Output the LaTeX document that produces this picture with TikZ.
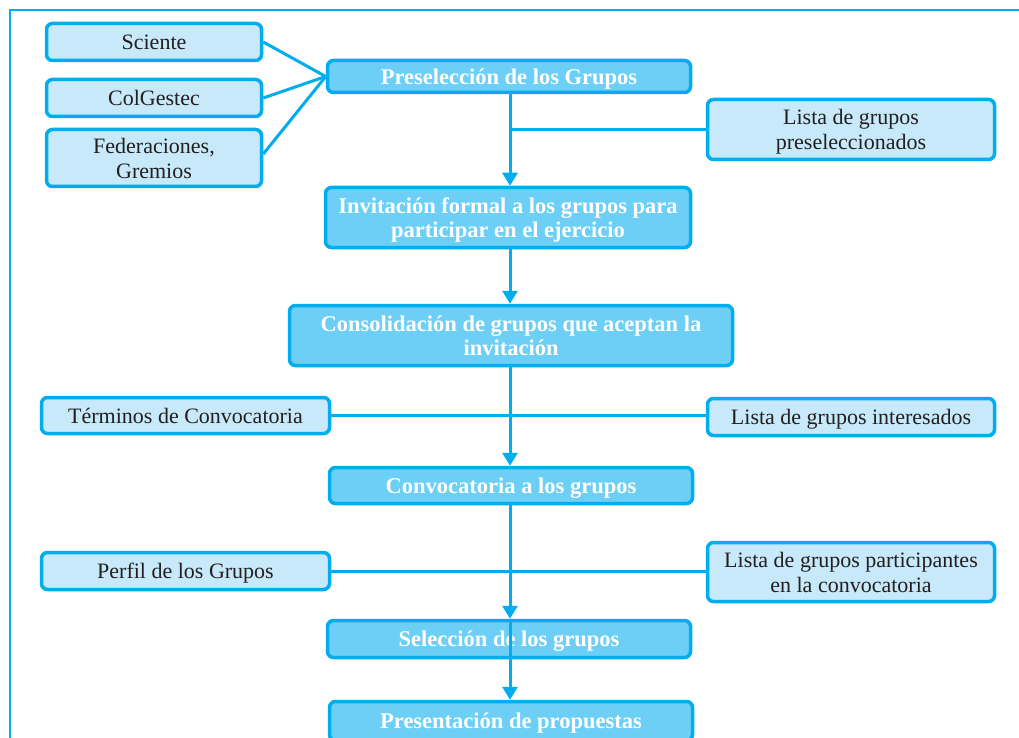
\documentclass[tikz,border=0pt]{standalone}
\usepackage{fontspec}
\setmainfont{Liberation Serif}
\usetikzlibrary{arrows.meta}
\definecolor{edge}{RGB}{0,174,239}
\definecolor{lightfill}{RGB}{199,233,249}
\definecolor{mainfill}{RGB}{109,207,246}
\definecolor{ink}{RGB}{35,31,32}
\begin{document}
\begin{tikzpicture}[x=1pt,y=-1pt,
  box/.style={draw=edge, line width=3.5pt, rounded corners=6pt, inner sep=0pt, align=center, text depth=0pt},
  side/.style={box, fill=lightfill, text=ink, font=\fontsize{22}{25}\selectfont},
  main/.style={box, fill=mainfill, text=white, font=\fontsize{22.5}{24}\selectfont\bfseries},
  link/.style={draw=edge, line width=3pt},
  arr/.style={link, -{Triangle[width=15pt,length=13pt]}},
  frame/.style={draw=edge, line width=2.5pt}]
\useasboundingbox (0,0) rectangle (1019,738);

% outer frame
\draw[frame] (10,738) -- (10,10) -- (1020,10);

% spine of the flow
\coordinate (spine) at (510,0);

% left-hand sources
\node[side, minimum width=215pt, minimum height=37pt] (sci) at (154,42) {Sciente};
\node[side, minimum width=215pt, minimum height=37pt] (col) at (154,98) {ColGestec};
\node[side, minimum width=215pt, minimum height=57pt] (fed) at (154,158) {Federaciones,\\Gremios};

% main steps
\node[main, minimum width=363pt, minimum height=32pt] (pre) at (509,76.5) {Preselección de los Grupos};
\node[main, minimum width=365pt, minimum height=60pt] (inv) at (508,217.5) {Invitación formal a los grupos para\\participar en el ejercicio};
\node[main, minimum width=443pt, minimum height=60pt] (con) at (511,335.5) {Consolidación de grupos que aceptan la\\invitación};
\node[main, minimum width=363pt, minimum height=36pt] (conv) at (511,485.5) {Convocatoria a los grupos};
\node[main, minimum width=363pt, minimum height=37pt] (sel) at (509,639) {Selección de los grupos};
\node[main, minimum width=363pt, minimum height=39pt] (prs) at (511,721) {Presentación de propuestas};

% side documents
\node[side, minimum width=287pt, minimum height=60pt] (lpre) at (851,129.5) {Lista de grupos\\preseleccionados};
\node[side, minimum width=288pt, minimum height=36pt] (ter) at (185.5,415.5) {Términos de Convocatoria};
\node[side, minimum width=287pt, minimum height=37pt] (lint) at (851,417) {Lista de grupos interesados};
\node[side, minimum width=288pt, minimum height=37pt] (per) at (185.5,571) {Perfil de los Grupos};
\node[side, minimum width=287pt, minimum height=59pt] (lpar) at (851,572) {Lista de grupos participantes\\en la convocatoria};

% sources feeding the preselection
\draw[link] (sci.east) -- (pre.west);
\draw[link] (col.east) -- (pre.west);
\draw[link] ([yshift=4pt]fed.east) -- (pre.west);

% side branches
\draw[link] (lpre.west) -- (lpre.west -| spine);
\draw[link] (ter.east) -- (ter.east -| lint.west);
\draw[link] (per.east) -- (per.east -| lpar.west);

% flow arrows
\draw[arr] (pre.south -| spine) -- (inv.north -| spine);
\draw[arr] (inv.south -| spine) -- (con.north -| spine);
\draw[arr] (con.south -| spine) -- (conv.north -| spine);
\draw[arr] (conv.south -| spine) -- (sel.north -| spine);
\draw[arr] (sel.north -| spine) -- (prs.north -| spine);
\end{tikzpicture}
\end{document}
